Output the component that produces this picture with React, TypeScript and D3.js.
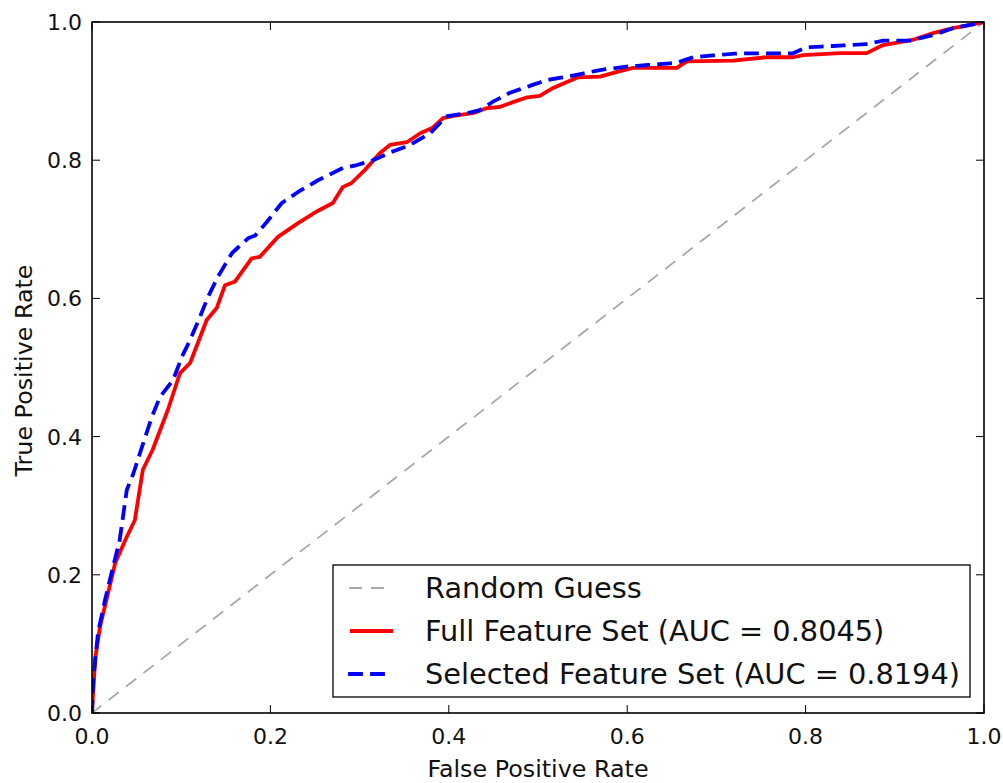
import React from "react";
import * as d3 from "d3";

const fullFpr = [0, 0.0034, 0.009, 0.017, 0.026, 0.039, 0.048, 0.057, 0.068, 0.085, 0.0987, 0.11, 0.1286, 0.1398, 0.149, 0.16, 0.179, 0.188, 0.2085, 0.231, 0.253, 0.27, 0.281, 0.291, 0.306, 0.3229, 0.334, 0.353, 0.368, 0.382, 0.3935, 0.405, 0.427, 0.443, 0.457, 0.472, 0.488, 0.502, 0.517, 0.5325, 0.545, 0.5695, 0.592, 0.6065, 0.6555, 0.667, 0.7186, 0.756, 0.786, 0.797, 0.8386, 0.8685, 0.8868, 0.92, 0.943, 0.9652, 0.9955, 1];
const fullTpr = [0, 0.077, 0.125, 0.168, 0.217, 0.255, 0.279, 0.352, 0.381, 0.4385, 0.492, 0.5065, 0.5687, 0.586, 0.619, 0.624, 0.658, 0.66, 0.689, 0.709, 0.7265, 0.738, 0.761, 0.767, 0.786, 0.8104, 0.822, 0.826, 0.839, 0.847, 0.861, 0.864, 0.868, 0.8755, 0.877, 0.884, 0.891, 0.893, 0.9045, 0.913, 0.92, 0.921, 0.929, 0.9335, 0.9335, 0.943, 0.944, 0.949, 0.949, 0.952, 0.955, 0.955, 0.9667, 0.974, 0.984, 0.991, 0.9986, 1];

const selFpr = [0, 0.0015, 0.0067, 0.0146, 0.0235, 0.031, 0.039, 0.0465, 0.055, 0.067, 0.076, 0.091, 0.1006, 0.11, 0.121, 0.13, 0.141, 0.157, 0.175, 0.183, 0.196, 0.2127, 0.231, 0.2534, 0.28, 0.297, 0.315, 0.334, 0.3565, 0.379, 0.3977, 0.42, 0.435, 0.4496, 0.4686, 0.494, 0.51, 0.5415, 0.5695, 0.599, 0.6555, 0.674, 0.7, 0.7265, 0.786, 0.801, 0.8307, 0.8685, 0.8868, 0.917, 0.943, 0.9652, 0.9955, 1];
const selTpr = [0, 0.048, 0.116, 0.1635, 0.211, 0.25, 0.3227, 0.347, 0.381, 0.428, 0.457, 0.482, 0.515, 0.54, 0.573, 0.602, 0.631, 0.6657, 0.687, 0.691, 0.7106, 0.738, 0.754, 0.771, 0.788, 0.793, 0.8, 0.811, 0.822, 0.839, 0.8636, 0.868, 0.8726, 0.8847, 0.8977, 0.909, 0.916, 0.923, 0.9305, 0.9353, 0.941, 0.949, 0.952, 0.9547, 0.9547, 0.9634, 0.9653, 0.968, 0.973, 0.973, 0.981, 0.991, 0.9986, 1];

const xTicks = [0, 0.2, 0.4, 0.6, 0.8, 1.0];
const yTicks = [0, 0.2, 0.4, 0.6, 0.8, 1.0];

const legendLabels = [
  "Random Guess",
  "Full Feature Set (AUC = 0.8045)",
  "Selected Feature Set (AUC = 0.8194)",
];

const FONT = "'DejaVu Sans', sans-serif";

export default function App() {
  const W = 1003, H = 783;
  const L = 92, R = 984, T = 22, B = 713;
  const x = d3.scaleLinear().domain([0, 1]).range([L, R]);
  const y = d3.scaleLinear().domain([0, 1]).range([B, T]);
  const line = d3.line<[number, number]>().x((d) => x(d[0])).y((d) => y(d[1]));
  const fullPts = fullFpr.map((v, i) => [v, fullTpr[i]] as [number, number]);
  const selPts = selFpr.map((v, i) => [v, selTpr[i]] as [number, number]);
  const diag: [number, number][] = [[0, 0], [1, 1]];
  const tickLen = 8;

  const legX = 333, legY = 565, legW = 637, legH = 132;
  const rowY = [588, 631, 674];
  const hx1 = 350, hx2 = 393;

  return (
    <svg width={W} height={H} style={{ position: "absolute", left: 0, top: 0, background: "#fff" }}>
      <rect x={0} y={0} width={W} height={H} fill="#fff" />
      <defs>
        <clipPath id="plotclip">
          <rect x={L} y={T} width={R - L} height={B - T} />
        </clipPath>
      </defs>
      <g clipPath="url(#plotclip)">
        <path d={line(diag) || ""} fill="none" stroke="#a8a8a8" strokeWidth={1.8} strokeDasharray="11 11" strokeLinecap="square" />
        <path d={line(fullPts) || ""} fill="none" stroke="#ff0000" strokeWidth={3.8} strokeLinejoin="round" />
        <path d={line(selPts) || ""} fill="none" stroke="#0000ff" strokeWidth={3.8} strokeDasharray="11 11" strokeLinecap="square" strokeLinejoin="round" />
      </g>
      <rect x={L} y={T} width={R - L} height={B - T} fill="none" stroke="#000" strokeWidth={1.6} />
      {xTicks.map((t) => (
        <g key={"x" + t}>
          <line x1={x(t)} x2={x(t)} y1={B} y2={B - tickLen} stroke="#000" strokeWidth={1} />
          <line x1={x(t)} x2={x(t)} y1={T} y2={T + tickLen} stroke="#000" strokeWidth={1} />
          <text x={x(t)} y={B + 31} textAnchor="middle" fontFamily={FONT} fontSize={22} fill="#111">
            {t.toFixed(1)}
          </text>
        </g>
      ))}
      {yTicks.map((t) => (
        <g key={"y" + t}>
          <line x1={L} x2={L + tickLen} y1={y(t)} y2={y(t)} stroke="#000" strokeWidth={1} />
          <line x1={R} x2={R - tickLen} y1={y(t)} y2={y(t)} stroke="#000" strokeWidth={1} />
          <text x={L - 10} y={y(t) + 8} textAnchor="end" fontFamily={FONT} fontSize={22} fill="#111">
            {t.toFixed(1)}
          </text>
        </g>
      ))}
      <text x={538} y={777} textAnchor="middle" fontFamily={FONT} fontSize={23.8} fill="#111">
        False Positive Rate
      </text>
      <text transform={`translate(32, ${(T + B) / 2 + 3}) rotate(-90)`} textAnchor="middle" fontFamily={FONT} fontSize={23.8} fill="#111">
        True Positive Rate
      </text>
      <g>
        <rect x={legX} y={legY} width={legW} height={legH} fill="#fff" stroke="#000" strokeWidth={1.3} />
        <line x1={hx1} x2={hx2} y1={rowY[0]} y2={rowY[0]} stroke="#a8a8a8" strokeWidth={1.8} strokeDasharray="11 11" strokeLinecap="square" />
        <line x1={hx1} x2={hx2} y1={rowY[1]} y2={rowY[1]} stroke="#ff0000" strokeWidth={3.8} />
        <line x1={hx1} x2={hx2} y1={rowY[2]} y2={rowY[2]} stroke="#0000ff" strokeWidth={3.8} strokeDasharray="11 11" strokeLinecap="square" />
        {legendLabels.map((lab, i) => (
          <text key={lab} x={425} y={rowY[i] + 10} fontFamily={FONT} fontSize={28.8} fill="#111">
            {lab}
          </text>
        ))}
      </g>
    </svg>
  );
}
